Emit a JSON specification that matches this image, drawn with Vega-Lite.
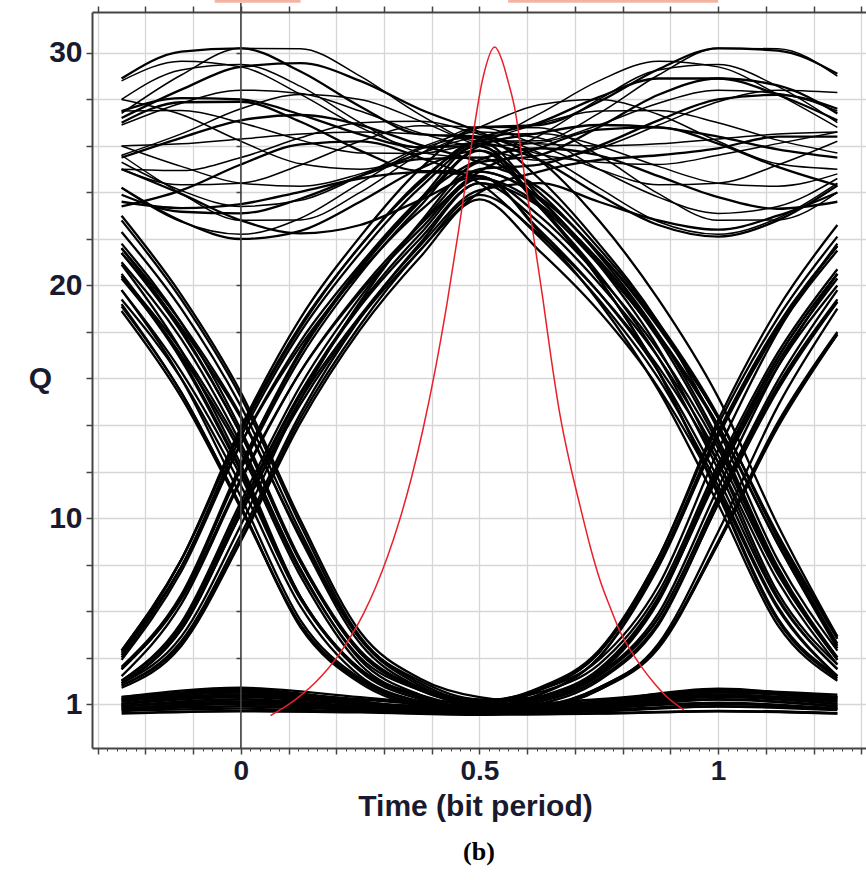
{
"$schema":"https://vega.github.io/schema/vega-lite/v6.json",
"width":774,"height":736,"autosize":"none",
"padding":{"left":92,"top":12,"right":0,"bottom":132},
"background":"white",
"config":{"view":{"stroke":null}},
"title":{"text":"(b)","orient":"bottom","anchor":"middle","font":"Liberation Serif","fontSize":26,"fontWeight":"bold","color":"#000","offset":18},
"datasets":{
"upper":[
{"id":"u1","t":-0.25,"q":27.4},{"id":"u1","t":-0.125,"q":29.05},{"id":"u1","t":0,"q":30.2},{"id":"u1","t":0.125,"q":30.18},{"id":"u1","t":0.25,"q":29.0},{"id":"u1","t":0.375,"q":27.35},{"id":"u1","t":0.5,"q":26.2},{"id":"u1","t":0.625,"q":26.22},{"id":"u1","t":0.75,"q":27.4},{"id":"u1","t":0.875,"q":29.05},{"id":"u1","t":1,"q":30.2},{"id":"u1","t":1.125,"q":30.18},{"id":"u1","t":1.25,"q":29.0},
{"id":"u2","t":-0.25,"q":28.0},{"id":"u2","t":-0.125,"q":29.27},{"id":"u2","t":0,"q":29.5},{"id":"u2","t":0.125,"q":28.56},{"id":"u2","t":0.25,"q":27.0},{"id":"u2","t":0.375,"q":25.73},{"id":"u2","t":0.5,"q":25.5},{"id":"u2","t":0.625,"q":26.44},{"id":"u2","t":0.75,"q":28.0},{"id":"u2","t":0.875,"q":29.27},{"id":"u2","t":1,"q":29.5},{"id":"u2","t":1.125,"q":28.56},{"id":"u2","t":1.25,"q":27.0},
{"id":"u3","t":-0.25,"q":24.2},{"id":"u3","t":-0.125,"q":22.74},{"id":"u3","t":0,"q":22.2},{"id":"u3","t":0.125,"q":22.89},{"id":"u3","t":0.25,"q":24.4},{"id":"u3","t":0.375,"q":25.86},{"id":"u3","t":0.5,"q":26.4},{"id":"u3","t":0.625,"q":25.71},{"id":"u3","t":0.75,"q":24.2},{"id":"u3","t":0.875,"q":22.74},{"id":"u3","t":1,"q":22.2},{"id":"u3","t":1.125,"q":22.89},{"id":"u3","t":1.25,"q":24.4},
{"id":"u4","t":-0.25,"q":25.6},{"id":"u4","t":-0.125,"q":23.95},{"id":"u4","t":0,"q":22.8},{"id":"u4","t":0.125,"q":22.82},{"id":"u4","t":0.25,"q":24.0},{"id":"u4","t":0.375,"q":25.65},{"id":"u4","t":0.5,"q":26.8},{"id":"u4","t":0.625,"q":26.78},{"id":"u4","t":0.75,"q":25.6},{"id":"u4","t":0.875,"q":23.95},{"id":"u4","t":1,"q":22.8},{"id":"u4","t":1.125,"q":22.82},{"id":"u4","t":1.25,"q":24.0},
{"id":"u5","t":-0.25,"q":25.6},{"id":"u5","t":-0.125,"q":26.52},{"id":"u5","t":0,"q":27.6},{"id":"u5","t":0.125,"q":28.21},{"id":"u5","t":0.25,"q":28.0},{"id":"u5","t":0.375,"q":27.08},{"id":"u5","t":0.5,"q":26.0},{"id":"u5","t":0.625,"q":25.39},{"id":"u5","t":0.75,"q":25.9},{"id":"u5","t":0.875,"q":26.9},{"id":"u5","t":1,"q":27.9},{"id":"u5","t":1.125,"q":28.4},{"id":"u5","t":1.25,"q":28.3},
{"id":"u6","t":-0.25,"q":28.0},{"id":"u6","t":-0.125,"q":27.35},{"id":"u6","t":0,"q":26.2},{"id":"u6","t":0.125,"q":25.23},{"id":"u6","t":0.25,"q":25.0},{"id":"u6","t":0.375,"q":25.65},{"id":"u6","t":0.5,"q":26.8},{"id":"u6","t":0.625,"q":27.77},{"id":"u6","t":0.75,"q":28.0},{"id":"u6","t":0.875,"q":27.35},{"id":"u6","t":1,"q":26.2},{"id":"u6","t":1.125,"q":25.23},{"id":"u6","t":1.25,"q":25.0},
{"id":"u7","t":-0.25,"q":26.9},{"id":"u7","t":-0.125,"q":27.84},{"id":"u7","t":0,"q":28.4},{"id":"u7","t":0.125,"q":28.26},{"id":"u7","t":0.25,"q":27.5},{"id":"u7","t":0.375,"q":26.56},{"id":"u7","t":0.5,"q":26.0},{"id":"u7","t":0.625,"q":26.14},{"id":"u7","t":0.75,"q":26.9},{"id":"u7","t":0.875,"q":27.84},{"id":"u7","t":1,"q":28.4},{"id":"u7","t":1.125,"q":28.26},{"id":"u7","t":1.25,"q":27.5},
{"id":"u8","t":-0.25,"q":25.0},{"id":"u8","t":-0.125,"q":24.33},{"id":"u8","t":0,"q":24.4},{"id":"u8","t":0.125,"q":25.18},{"id":"u8","t":0.25,"q":26.2},{"id":"u8","t":0.375,"q":26.87},{"id":"u8","t":0.5,"q":26.8},{"id":"u8","t":0.625,"q":26.02},{"id":"u8","t":0.75,"q":25.0},{"id":"u8","t":0.875,"q":24.33},{"id":"u8","t":1,"q":24.4},{"id":"u8","t":1.125,"q":25.18},{"id":"u8","t":1.25,"q":26.2},
{"id":"u9","t":-0.25,"q":25.0},{"id":"u9","t":-0.125,"q":24.94},{"id":"u9","t":0,"q":25.5},{"id":"u9","t":0.125,"q":26.35},{"id":"u9","t":0.25,"q":27.0},{"id":"u9","t":0.375,"q":27.06},{"id":"u9","t":0.5,"q":26.5},{"id":"u9","t":0.625,"q":25.65},{"id":"u9","t":0.75,"q":25.3},{"id":"u9","t":0.875,"q":25.2},{"id":"u9","t":1,"q":25.6},{"id":"u9","t":1.125,"q":26.1},{"id":"u9","t":1.25,"q":26.6},
{"id":"u10","t":-0.25,"q":27.5},{"id":"u10","t":-0.125,"q":27.52},{"id":"u10","t":0,"q":27.0},{"id":"u10","t":0.125,"q":26.25},{"id":"u10","t":0.25,"q":25.7},{"id":"u10","t":0.375,"q":25.68},{"id":"u10","t":0.5,"q":26.2},{"id":"u10","t":0.625,"q":26.95},{"id":"u10","t":0.75,"q":27.5},{"id":"u10","t":0.875,"q":27.52},{"id":"u10","t":1,"q":27.0},{"id":"u10","t":1.125,"q":26.25},{"id":"u10","t":1.25,"q":25.7},
{"id":"u11","t":-0.25,"q":25.3},{"id":"u11","t":-0.125,"q":24.08},{"id":"u11","t":0,"q":23.4},{"id":"u11","t":0.125,"q":23.66},{"id":"u11","t":0.25,"q":24.7},{"id":"u11","t":0.375,"q":25.92},{"id":"u11","t":0.5,"q":26.6},{"id":"u11","t":0.625,"q":26.34},{"id":"u11","t":0.75,"q":25.0},{"id":"u11","t":0.875,"q":23.8},{"id":"u11","t":1,"q":23.1},{"id":"u11","t":1.125,"q":23.4},{"id":"u11","t":1.25,"q":24.6},
{"id":"u12","t":-0.25,"q":28.8},{"id":"u12","t":-0.125,"q":29.64},{"id":"u12","t":0,"q":29.4},{"id":"u12","t":0.125,"q":28.22},{"id":"u12","t":0.25,"q":26.8},{"id":"u12","t":0.375,"q":25.96},{"id":"u12","t":0.5,"q":26.2},{"id":"u12","t":0.625,"q":27.38},{"id":"u12","t":0.75,"q":28.8},{"id":"u12","t":0.875,"q":29.64},{"id":"u12","t":1,"q":29.4},{"id":"u12","t":1.125,"q":28.22},{"id":"u12","t":1.25,"q":26.8},
{"id":"u13","t":-0.25,"q":26.0},{"id":"u13","t":-0.125,"q":26.09},{"id":"u13","t":0,"q":26.3},{"id":"u13","t":0.125,"q":26.51},{"id":"u13","t":0.25,"q":26.6},{"id":"u13","t":0.375,"q":26.51},{"id":"u13","t":0.5,"q":26.3},{"id":"u13","t":0.625,"q":26.09},{"id":"u13","t":0.75,"q":26.0},{"id":"u13","t":0.875,"q":26.09},{"id":"u13","t":1,"q":26.3},{"id":"u13","t":1.125,"q":26.51},{"id":"u13","t":1.25,"q":26.6},
{"id":"u14","t":-0.25,"q":26.0},{"id":"u14","t":-0.125,"q":25.12},{"id":"u14","t":0,"q":24.4},{"id":"u14","t":0.125,"q":24.27},{"id":"u14","t":0.25,"q":24.8},{"id":"u14","t":0.375,"q":25.68},{"id":"u14","t":0.5,"q":26.4},{"id":"u14","t":0.625,"q":26.53},{"id":"u14","t":0.75,"q":26.0},{"id":"u14","t":0.875,"q":25.12},{"id":"u14","t":1,"q":24.4},{"id":"u14","t":1.125,"q":24.27},{"id":"u14","t":1.25,"q":24.8}
],
"edges":[
{"id":"A1","t":-0.25,"q":4.1},{"id":"A1","t":-0.125,"q":8.2},{"id":"A1","t":0,"q":13.9},{"id":"A1","t":0.125,"q":18.6},{"id":"A1","t":0.25,"q":22.1},{"id":"A1","t":0.375,"q":25.0},{"id":"A1","t":0.5,"q":26.8},{"id":"A1","t":0.625,"q":26.9},{"id":"A1","t":0.75,"q":27.9},{"id":"A1","t":0.875,"q":29.3},{"id":"A1","t":1,"q":30.2},{"id":"A1","t":1.125,"q":30.1},{"id":"A1","t":1.25,"q":29.1},
{"id":"A2","t":-0.25,"q":3.6},{"id":"A2","t":-0.125,"q":6.7},{"id":"A2","t":0,"q":12.3},{"id":"A2","t":0.125,"q":17.2},{"id":"A2","t":0.25,"q":20.8},{"id":"A2","t":0.375,"q":23.7},{"id":"A2","t":0.5,"q":26.1},{"id":"A2","t":0.625,"q":25.4},{"id":"A2","t":0.75,"q":23.9},{"id":"A2","t":0.875,"q":22.6},{"id":"A2","t":1,"q":22.1},{"id":"A2","t":1.125,"q":22.8},{"id":"A2","t":1.25,"q":24.3},
{"id":"A3","t":-0.25,"q":3.0},{"id":"A3","t":-0.125,"q":5.5},{"id":"A3","t":0,"q":10.7},{"id":"A3","t":0.125,"q":15.7},{"id":"A3","t":0.25,"q":19.5},{"id":"A3","t":0.375,"q":22.6},{"id":"A3","t":0.5,"q":25.0},{"id":"A3","t":0.625,"q":25.2},{"id":"A3","t":0.75,"q":26.0},{"id":"A3","t":0.875,"q":27.1},{"id":"A3","t":1,"q":28.0},{"id":"A3","t":1.125,"q":28.2},{"id":"A3","t":1.25,"q":27.6},
{"id":"A4","t":-0.25,"q":2.8},{"id":"A4","t":-0.125,"q":4.6},{"id":"A4","t":0,"q":9.1},{"id":"A4","t":0.125,"q":14.3},{"id":"A4","t":0.25,"q":18.3},{"id":"A4","t":0.375,"q":21.5},{"id":"A4","t":0.5,"q":24.0},{"id":"A4","t":0.625,"q":24.9},{"id":"A4","t":0.75,"q":25.4},{"id":"A4","t":0.875,"q":25.6},{"id":"A4","t":1,"q":25.9},{"id":"A4","t":1.125,"q":26.4},{"id":"A4","t":1.25,"q":26.4},
{"id":"A5","t":-0.25,"q":2.9},{"id":"A5","t":-0.125,"q":5.2},{"id":"A5","t":0,"q":10.2},{"id":"A5","t":0.125,"q":15.1},{"id":"A5","t":0.25,"q":18.7},{"id":"A5","t":0.375,"q":21.7},{"id":"A5","t":0.5,"q":24.1},{"id":"A5","t":0.625,"q":24.4},{"id":"A5","t":0.75,"q":23.6},{"id":"A5","t":0.875,"q":22.8},{"id":"A5","t":1,"q":22.4},{"id":"A5","t":1.125,"q":23.0},{"id":"A5","t":1.25,"q":24.0},
{"id":"A6","t":-0.25,"q":4.3},{"id":"A6","t":-0.125,"q":8.2},{"id":"A6","t":0,"q":13.8},{"id":"A6","t":0.125,"q":18.3},{"id":"A6","t":0.25,"q":21.7},{"id":"A6","t":0.375,"q":24.5},{"id":"A6","t":0.5,"q":26.3},{"id":"A6","t":0.625,"q":27.0},{"id":"A6","t":0.75,"q":28.1},{"id":"A6","t":0.875,"q":28.9},{"id":"A6","t":1,"q":28.9},{"id":"A6","t":1.125,"q":28.2},{"id":"A6","t":1.25,"q":27.1},
{"id":"A7","t":-0.25,"q":3.5},{"id":"A7","t":-0.125,"q":6.6},{"id":"A7","t":0,"q":12.2},{"id":"A7","t":0.125,"q":17.1},{"id":"A7","t":0.25,"q":20.7},{"id":"A7","t":0.375,"q":23.6},{"id":"A7","t":0.5,"q":26.0},{"id":"A7","t":0.625,"q":26.55},{"id":"A7","t":0.75,"q":26.9},{"id":"A7","t":0.875,"q":26.8},{"id":"A7","t":1,"q":26.4},{"id":"A7","t":1.125,"q":25.85},{"id":"A7","t":1.25,"q":25.5},
{"id":"A8","t":-0.25,"q":3.9},{"id":"A8","t":-0.125,"q":7.7},{"id":"A8","t":0,"q":13.2},{"id":"A8","t":0.125,"q":17.6},{"id":"A8","t":0.25,"q":20.9},{"id":"A8","t":0.375,"q":23.7},{"id":"A8","t":0.5,"q":25.4},{"id":"A8","t":0.625,"q":25.9},{"id":"A8","t":0.75,"q":25.6},{"id":"A8","t":0.875,"q":24.7},{"id":"A8","t":1,"q":23.8},{"id":"A8","t":1.125,"q":23.3},{"id":"A8","t":1.25,"q":23.6},
{"id":"A9","t":-0.25,"q":2.9},{"id":"A9","t":-0.125,"q":4.9},{"id":"A9","t":0,"q":9.7},{"id":"A9","t":0.125,"q":15.1},{"id":"A9","t":0.25,"q":19.3},{"id":"A9","t":0.375,"q":22.7},{"id":"A9","t":0.5,"q":25.3},{"id":"A9","t":0.625,"q":25.6},{"id":"A9","t":0.75,"q":26.8},{"id":"A9","t":0.875,"q":28.2},{"id":"A9","t":1,"q":28.9},{"id":"A9","t":1.125,"q":28.6},{"id":"A9","t":1.25,"q":27.4},
{"id":"A10","t":-0.25,"q":3.2},{"id":"A10","t":-0.125,"q":6.3},{"id":"A10","t":0,"q":11.6},{"id":"A10","t":0.125,"q":16.3},{"id":"A10","t":0.25,"q":19.8},{"id":"A10","t":0.375,"q":22.6},{"id":"A10","t":0.5,"q":24.9},{"id":"A10","t":0.625,"q":25.9},{"id":"A10","t":0.75,"q":26.7},{"id":"A10","t":0.875,"q":26.8},{"id":"A10","t":1,"q":26.1},{"id":"A10","t":1.125,"q":25.1},{"id":"A10","t":1.25,"q":24.3},
{"id":"B1","t":-0.25,"q":4.3},{"id":"B1","t":-0.125,"q":8.2},{"id":"B1","t":0,"q":13.7},{"id":"B1","t":0.125,"q":18.2},{"id":"B1","t":0.25,"q":21.7},{"id":"B1","t":0.375,"q":24.4},{"id":"B1","t":0.5,"q":26.2},{"id":"B1","t":0.625,"q":23.8},{"id":"B1","t":0.75,"q":20.9},{"id":"B1","t":0.875,"q":17.3},{"id":"B1","t":1,"q":12.4},{"id":"B1","t":1.125,"q":6.8},{"id":"B1","t":1.25,"q":3.7},
{"id":"B2","t":-0.25,"q":3.5},{"id":"B2","t":-0.125,"q":6.6},{"id":"B2","t":0,"q":12.1},{"id":"B2","t":0.125,"q":16.9},{"id":"B2","t":0.25,"q":20.5},{"id":"B2","t":0.375,"q":23.4},{"id":"B2","t":0.5,"q":25.8},{"id":"B2","t":0.625,"q":24.0},{"id":"B2","t":0.75,"q":21.3},{"id":"B2","t":0.875,"q":17.9},{"id":"B2","t":1,"q":13.4},{"id":"B2","t":1.125,"q":7.9},{"id":"B2","t":1.25,"q":4.0},
{"id":"B3","t":-0.25,"q":3.0},{"id":"B3","t":-0.125,"q":5.4},{"id":"B3","t":0,"q":10.4},{"id":"B3","t":0.125,"q":15.3},{"id":"B3","t":0.25,"q":19.1},{"id":"B3","t":0.375,"q":22.0},{"id":"B3","t":0.5,"q":24.4},{"id":"B3","t":0.625,"q":23.4},{"id":"B3","t":0.75,"q":20.9},{"id":"B3","t":0.875,"q":17.8},{"id":"B3","t":1,"q":13.9},{"id":"B3","t":1.125,"q":8.9},{"id":"B3","t":1.25,"q":4.5},
{"id":"B4","t":-0.25,"q":2.7},{"id":"B4","t":-0.125,"q":4.5},{"id":"B4","t":0,"q":9.0},{"id":"B4","t":0.125,"q":14.1},{"id":"B4","t":0.25,"q":18.1},{"id":"B4","t":0.375,"q":21.2},{"id":"B4","t":0.5,"q":23.7},{"id":"B4","t":0.625,"q":21.5},{"id":"B4","t":0.75,"q":18.9},{"id":"B4","t":0.875,"q":15.6},{"id":"B4","t":1,"q":11.2},{"id":"B4","t":1.125,"q":6.1},{"id":"B4","t":1.25,"q":3.2},
{"id":"B5","t":-0.25,"q":2.9},{"id":"B5","t":-0.125,"q":5.2},{"id":"B5","t":0,"q":10.2},{"id":"B5","t":0.125,"q":14.9},{"id":"B5","t":0.25,"q":18.6},{"id":"B5","t":0.375,"q":21.5},{"id":"B5","t":0.5,"q":23.9},{"id":"B5","t":0.625,"q":22.2},{"id":"B5","t":0.75,"q":19.7},{"id":"B5","t":0.875,"q":16.5},{"id":"B5","t":1,"q":12.4},{"id":"B5","t":1.125,"q":7.3},{"id":"B5","t":1.25,"q":3.7},
{"id":"B6","t":-0.25,"q":4.2},{"id":"B6","t":-0.125,"q":7.9},{"id":"B6","t":0,"q":13.2},{"id":"B6","t":0.125,"q":17.4},{"id":"B6","t":0.25,"q":20.6},{"id":"B6","t":0.375,"q":23.2},{"id":"B6","t":0.5,"q":24.9},{"id":"B6","t":0.625,"q":23.8},{"id":"B6","t":0.75,"q":21.4},{"id":"B6","t":0.875,"q":18.3},{"id":"B6","t":1,"q":14.3},{"id":"B6","t":1.125,"q":9.3},{"id":"B6","t":1.25,"q":4.9},
{"id":"B7","t":-0.25,"q":3.5},{"id":"B7","t":-0.125,"q":6.5},{"id":"B7","t":0,"q":11.7},{"id":"B7","t":0.125,"q":16.3},{"id":"B7","t":0.25,"q":19.7},{"id":"B7","t":0.375,"q":22.4},{"id":"B7","t":0.5,"q":24.7},{"id":"B7","t":0.625,"q":22.4},{"id":"B7","t":0.75,"q":19.7},{"id":"B7","t":0.875,"q":16.3},{"id":"B7","t":1,"q":11.7},{"id":"B7","t":1.125,"q":6.5},{"id":"B7","t":1.25,"q":3.5},
{"id":"B8","t":-0.25,"q":2.8},{"id":"B8","t":-0.125,"q":4.7},{"id":"B8","t":0,"q":9.3},{"id":"B8","t":0.125,"q":14.5},{"id":"B8","t":0.25,"q":18.6},{"id":"B8","t":0.375,"q":21.8},{"id":"B8","t":0.5,"q":24.4},{"id":"B8","t":0.625,"q":22.7},{"id":"B8","t":0.75,"q":20.1},{"id":"B8","t":0.875,"q":16.9},{"id":"B8","t":1,"q":12.7},{"id":"B8","t":1.125,"q":7.6},{"id":"B8","t":1.25,"q":3.9},
{"id":"B9","t":-0.25,"q":4.0},{"id":"B9","t":-0.125,"q":7.9},{"id":"B9","t":0,"q":13.5},{"id":"B9","t":0.125,"q":18.0},{"id":"B9","t":0.25,"q":21.4},{"id":"B9","t":0.375,"q":24.2},{"id":"B9","t":0.5,"q":26.0},{"id":"B9","t":0.625,"q":23.4},{"id":"B9","t":0.75,"q":20.3},{"id":"B9","t":0.875,"q":16.3},{"id":"B9","t":1,"q":11.0},{"id":"B9","t":1.125,"q":5.6},{"id":"B9","t":1.25,"q":3.1},
{"id":"B10","t":-0.25,"q":2.9},{"id":"B10","t":-0.125,"q":5.3},{"id":"B10","t":0,"q":10.5},{"id":"B10","t":0.125,"q":15.4},{"id":"B10","t":0.25,"q":19.2},{"id":"B10","t":0.375,"q":22.2},{"id":"B10","t":0.5,"q":24.6},{"id":"B10","t":0.625,"q":23.5},{"id":"B10","t":0.75,"q":21.1},{"id":"B10","t":0.875,"q":17.9},{"id":"B10","t":1,"q":14.0},{"id":"B10","t":1.125,"q":8.9},{"id":"B10","t":1.25,"q":4.4},
{"id":"C1","t":-0.25,"q":21.8},{"id":"C1","t":-0.125,"q":18.4},{"id":"C1","t":0,"q":13.8},{"id":"C1","t":0.125,"q":8.2},{"id":"C1","t":0.25,"q":4.3},{"id":"C1","t":0.375,"q":2.7},{"id":"C1","t":0.5,"q":2.1},{"id":"C1","t":0.625,"q":2.5},{"id":"C1","t":0.75,"q":3.7},{"id":"C1","t":0.875,"q":6.8},{"id":"C1","t":1,"q":12.3},{"id":"C1","t":1.125,"q":17.1},{"id":"C1","t":1.25,"q":20.7},
{"id":"C2","t":-0.25,"q":20.5},{"id":"C2","t":-0.125,"q":16.9},{"id":"C2","t":0,"q":12.1},{"id":"C2","t":0.125,"q":6.6},{"id":"C2","t":0.25,"q":3.5},{"id":"C2","t":0.375,"q":2.3},{"id":"C2","t":0.5,"q":1.8},{"id":"C2","t":0.625,"q":2.1},{"id":"C2","t":0.75,"q":3.1},{"id":"C2","t":0.875,"q":5.5},{"id":"C2","t":1,"q":10.6},{"id":"C2","t":1.125,"q":15.6},{"id":"C2","t":1.25,"q":19.3},
{"id":"C3","t":-0.25,"q":21.6},{"id":"C3","t":-0.125,"q":18.4},{"id":"C3","t":0,"q":14.4},{"id":"C3","t":0.125,"q":9.1},{"id":"C3","t":0.25,"q":4.6},{"id":"C3","t":0.375,"q":2.7},{"id":"C3","t":0.5,"q":1.9},{"id":"C3","t":0.625,"q":2.4},{"id":"C3","t":0.75,"q":4.0},{"id":"C3","t":0.875,"q":8.0},{"id":"C3","t":1,"q":13.6},{"id":"C3","t":1.125,"q":18.2},{"id":"C3","t":1.25,"q":21.7},
{"id":"C4","t":-0.25,"q":18.9},{"id":"C4","t":-0.125,"q":15.2},{"id":"C4","t":0,"q":10.4},{"id":"C4","t":0.125,"q":5.4},{"id":"C4","t":0.25,"q":3.0},{"id":"C4","t":0.375,"q":2.0},{"id":"C4","t":0.5,"q":1.7},{"id":"C4","t":0.625,"q":1.9},{"id":"C4","t":0.75,"q":2.7},{"id":"C4","t":0.875,"q":4.5},{"id":"C4","t":1,"q":9.0},{"id":"C4","t":1.125,"q":14.1},{"id":"C4","t":1.25,"q":18.0},
{"id":"C5","t":-0.25,"q":19.4},{"id":"C5","t":-0.125,"q":16.0},{"id":"C5","t":0,"q":11.4},{"id":"C5","t":0.125,"q":6.2},{"id":"C5","t":0.25,"q":3.2},{"id":"C5","t":0.375,"q":2.1},{"id":"C5","t":0.5,"q":1.6},{"id":"C5","t":0.625,"q":2.1},{"id":"C5","t":0.75,"q":3.3},{"id":"C5","t":0.875,"q":6.4},{"id":"C5","t":1,"q":12.0},{"id":"C5","t":1.125,"q":16.9},{"id":"C5","t":1.25,"q":20.5},
{"id":"C6","t":-0.25,"q":21.4},{"id":"C6","t":-0.125,"q":18.2},{"id":"C6","t":0,"q":14.3},{"id":"C6","t":0.125,"q":9.2},{"id":"C6","t":0.25,"q":4.8},{"id":"C6","t":0.375,"q":3.0},{"id":"C6","t":0.5,"q":2.2},{"id":"C6","t":0.625,"q":2.3},{"id":"C6","t":0.75,"q":3.3},{"id":"C6","t":0.875,"q":5.7},{"id":"C6","t":1,"q":10.8},{"id":"C6","t":1.125,"q":15.7},{"id":"C6","t":1.25,"q":19.4},
{"id":"C7","t":-0.25,"q":20.4},{"id":"C7","t":-0.125,"q":17.2},{"id":"C7","t":0,"q":13.0},{"id":"C7","t":0.125,"q":7.7},{"id":"C7","t":0.25,"q":4.0},{"id":"C7","t":0.375,"q":2.6},{"id":"C7","t":0.5,"q":2.0},{"id":"C7","t":0.625,"q":2.6},{"id":"C7","t":0.75,"q":4.2},{"id":"C7","t":0.875,"q":8.1},{"id":"C7","t":1,"q":13.7},{"id":"C7","t":1.125,"q":18.3},{"id":"C7","t":1.25,"q":21.7},
{"id":"C8","t":-0.25,"q":19.8},{"id":"C8","t":-0.125,"q":16.0},{"id":"C8","t":0,"q":10.9},{"id":"C8","t":0.125,"q":5.6},{"id":"C8","t":0.25,"q":3.1},{"id":"C8","t":0.375,"q":2.1},{"id":"C8","t":0.5,"q":1.8},{"id":"C8","t":0.625,"q":2.3},{"id":"C8","t":0.75,"q":3.4},{"id":"C8","t":0.875,"q":6.5},{"id":"C8","t":1,"q":11.8},{"id":"C8","t":1.125,"q":16.5},{"id":"C8","t":1.25,"q":20.0},
{"id":"C9","t":-0.25,"q":21.0},{"id":"C9","t":-0.125,"q":17.7},{"id":"C9","t":0,"q":13.2},{"id":"C9","t":0.125,"q":7.8},{"id":"C9","t":0.25,"q":3.9},{"id":"C9","t":0.375,"q":2.4},{"id":"C9","t":0.5,"q":1.8},{"id":"C9","t":0.625,"q":1.9},{"id":"C9","t":0.75,"q":2.7},{"id":"C9","t":0.875,"q":4.5},{"id":"C9","t":1,"q":8.9},{"id":"C9","t":1.125,"q":13.9},{"id":"C9","t":1.25,"q":17.9},
{"id":"C10","t":-0.25,"q":22.8},{"id":"C10","t":-0.125,"q":19.4},{"id":"C10","t":0,"q":15.2},{"id":"C10","t":0.125,"q":9.7},{"id":"C10","t":0.25,"q":4.9},{"id":"C10","t":0.375,"q":2.9},{"id":"C10","t":0.5,"q":2.1},{"id":"C10","t":0.625,"q":2.3},{"id":"C10","t":0.75,"q":3.3},{"id":"C10","t":0.875,"q":5.9},{"id":"C10","t":1,"q":11.3},{"id":"C10","t":1.125,"q":16.5},{"id":"C10","t":1.25,"q":20.5},
{"id":"D1","t":-0.25,"q":23.0},{"id":"D1","t":-0.125,"q":19.6},{"id":"D1","t":0,"q":15.4},{"id":"D1","t":0.125,"q":9.9},{"id":"D1","t":0.25,"q":5.1},{"id":"D1","t":0.375,"q":3.1},{"id":"D1","t":0.5,"q":2.3},{"id":"D1","t":0.75,"q":1.9},{"id":"D1","t":1,"q":2.4},{"id":"D1","t":1.25,"q":2.1},
{"id":"D2","t":-0.25,"q":21.6},{"id":"D2","t":-0.125,"q":18.1},{"id":"D2","t":0,"q":13.6},{"id":"D2","t":0.125,"q":8.1},{"id":"D2","t":0.25,"q":4.2},{"id":"D2","t":0.375,"q":2.6},{"id":"D2","t":0.5,"q":2.0},{"id":"D2","t":0.75,"q":2.0},{"id":"D2","t":1,"q":2.6},{"id":"D2","t":1.25,"q":2.3},
{"id":"D3","t":-0.25,"q":20.4},{"id":"D3","t":-0.125,"q":16.8},{"id":"D3","t":0,"q":12.0},{"id":"D3","t":0.125,"q":6.6},{"id":"D3","t":0.25,"q":3.5},{"id":"D3","t":0.375,"q":2.3},{"id":"D3","t":0.5,"q":1.8},{"id":"D3","t":0.75,"q":1.7},{"id":"D3","t":1,"q":1.9},{"id":"D3","t":1.25,"q":1.8},
{"id":"D4","t":-0.25,"q":19.1},{"id":"D4","t":-0.125,"q":15.4},{"id":"D4","t":0,"q":10.5},{"id":"D4","t":0.125,"q":5.4},{"id":"D4","t":0.25,"q":3.0},{"id":"D4","t":0.375,"q":2.0},{"id":"D4","t":0.5,"q":1.7},{"id":"D4","t":0.75,"q":2.1},{"id":"D4","t":1,"q":2.5},{"id":"D4","t":1.25,"q":2.2},
{"id":"D5","t":-0.25,"q":20.3},{"id":"D5","t":-0.125,"q":17.0},{"id":"D5","t":0,"q":12.8},{"id":"D5","t":0.125,"q":7.5},{"id":"D5","t":0.25,"q":3.7},{"id":"D5","t":0.375,"q":2.3},{"id":"D5","t":0.5,"q":1.7},{"id":"D5","t":0.75,"q":1.8},{"id":"D5","t":1,"q":2.2},{"id":"D5","t":1.25,"q":1.9},
{"id":"D6","t":-0.25,"q":20.9},{"id":"D6","t":-0.125,"q":17.2},{"id":"D6","t":0,"q":12.3},{"id":"D6","t":0.125,"q":6.6},{"id":"D6","t":0.25,"q":3.4},{"id":"D6","t":0.375,"q":2.2},{"id":"D6","t":0.5,"q":1.7},{"id":"D6","t":0.75,"q":1.6},{"id":"D6","t":1,"q":1.7},{"id":"D6","t":1.25,"q":1.6},
{"id":"D7","t":-0.25,"q":22.3},{"id":"D7","t":-0.125,"q":19.0},{"id":"D7","t":0,"q":14.8},{"id":"D7","t":0.125,"q":9.4},{"id":"D7","t":0.25,"q":4.8},{"id":"D7","t":0.375,"q":2.8},{"id":"D7","t":0.5,"q":2.0},{"id":"D7","t":0.75,"q":2.0},{"id":"D7","t":1,"q":2.3},{"id":"D7","t":1.25,"q":2.0},
{"id":"D8","t":-0.25,"q":19.2},{"id":"D8","t":-0.125,"q":15.4},{"id":"D8","t":0,"q":10.5},{"id":"D8","t":0.125,"q":5.3},{"id":"D8","t":0.25,"q":2.9},{"id":"D8","t":0.375,"q":1.9},{"id":"D8","t":0.5,"q":1.6},{"id":"D8","t":0.75,"q":1.9},{"id":"D8","t":1,"q":2.5},{"id":"D8","t":1.25,"q":2.3},
{"id":"D9","t":-0.25,"q":19.8},{"id":"D9","t":-0.125,"q":16.3},{"id":"D9","t":0,"q":11.8},{"id":"D9","t":0.125,"q":6.5},{"id":"D9","t":0.25,"q":3.5},{"id":"D9","t":0.375,"q":2.4},{"id":"D9","t":0.5,"q":1.9},{"id":"D9","t":0.75,"q":2.1},{"id":"D9","t":1,"q":2.6},{"id":"D9","t":1.25,"q":2.4},
{"id":"D10","t":-0.25,"q":21.4},{"id":"D10","t":-0.125,"q":18.0},{"id":"D10","t":0,"q":13.6},{"id":"D10","t":0.125,"q":8.1},{"id":"D10","t":0.25,"q":4.2},{"id":"D10","t":0.375,"q":2.7},{"id":"D10","t":0.5,"q":2.1},{"id":"D10","t":0.75,"q":1.7},{"id":"D10","t":1,"q":2.0},{"id":"D10","t":1.25,"q":1.8},
{"id":"E1","t":-0.25,"q":2.2},{"id":"E1","t":0,"q":2.6},{"id":"E1","t":0.25,"q":2.2},{"id":"E1","t":0.5,"q":2.1},{"id":"E1","t":0.625,"q":2.7},{"id":"E1","t":0.75,"q":4.3},{"id":"E1","t":0.875,"q":8.3},{"id":"E1","t":1,"q":14.0},{"id":"E1","t":1.125,"q":18.6},{"id":"E1","t":1.25,"q":22.1},
{"id":"E2","t":-0.25,"q":1.9},{"id":"E2","t":0,"q":2.1},{"id":"E2","t":0.25,"q":1.9},{"id":"E2","t":0.5,"q":1.8},{"id":"E2","t":0.625,"q":2.3},{"id":"E2","t":0.75,"q":3.5},{"id":"E2","t":0.875,"q":6.6},{"id":"E2","t":1,"q":12.1},{"id":"E2","t":1.125,"q":16.9},{"id":"E2","t":1.25,"q":20.5},
{"id":"E3","t":-0.25,"q":2.0},{"id":"E3","t":0,"q":2.4},{"id":"E3","t":0.25,"q":2.0},{"id":"E3","t":0.5,"q":1.7},{"id":"E3","t":0.625,"q":2.0},{"id":"E3","t":0.75,"q":3.0},{"id":"E3","t":0.875,"q":5.4},{"id":"E3","t":1,"q":10.6},{"id":"E3","t":1.125,"q":15.5},{"id":"E3","t":1.25,"q":19.3},
{"id":"E4","t":-0.25,"q":1.7},{"id":"E4","t":0,"q":1.8},{"id":"E4","t":0.25,"q":1.7},{"id":"E4","t":0.5,"q":1.8},{"id":"E4","t":0.625,"q":2.4},{"id":"E4","t":0.75,"q":4.0},{"id":"E4","t":0.875,"q":7.9},{"id":"E4","t":1,"q":13.5},{"id":"E4","t":1.125,"q":18.1},{"id":"E4","t":1.25,"q":21.5},
{"id":"E5","t":-0.25,"q":2.1},{"id":"E5","t":0,"q":2.5},{"id":"E5","t":0.25,"q":2.1},{"id":"E5","t":0.5,"q":1.6},{"id":"E5","t":0.625,"q":1.8},{"id":"E5","t":0.75,"q":2.6},{"id":"E5","t":0.875,"q":4.4},{"id":"E5","t":1,"q":8.9},{"id":"E5","t":1.125,"q":14.0},{"id":"E5","t":1.25,"q":17.9},
{"id":"E6","t":-0.25,"q":1.8},{"id":"E6","t":0,"q":2.0},{"id":"E6","t":0.25,"q":1.8},{"id":"E6","t":0.5,"q":2.1},{"id":"E6","t":0.625,"q":2.6},{"id":"E6","t":0.75,"q":3.9},{"id":"E6","t":0.875,"q":7.1},{"id":"E6","t":1,"q":12.9},{"id":"E6","t":1.125,"q":18.0},{"id":"E6","t":1.25,"q":21.8},
{"id":"E7","t":-0.25,"q":2.3},{"id":"E7","t":0,"q":2.7},{"id":"E7","t":0.25,"q":2.3},{"id":"E7","t":0.5,"q":1.9},{"id":"E7","t":0.625,"q":2.2},{"id":"E7","t":0.75,"q":3.2},{"id":"E7","t":0.875,"q":5.7},{"id":"E7","t":1,"q":10.9},{"id":"E7","t":1.125,"q":15.9},{"id":"E7","t":1.25,"q":19.8},
{"id":"E8","t":-0.25,"q":2.0},{"id":"E8","t":0,"q":2.3},{"id":"E8","t":0.25,"q":2.0},{"id":"E8","t":0.5,"q":1.9},{"id":"E8","t":0.625,"q":2.6},{"id":"E8","t":0.75,"q":4.2},{"id":"E8","t":0.875,"q":8.3},{"id":"E8","t":1,"q":14.2},{"id":"E8","t":1.125,"q":19.0},{"id":"E8","t":1.25,"q":22.6},
{"id":"E9","t":-0.25,"q":1.9},{"id":"E9","t":0,"q":2.2},{"id":"E9","t":0.25,"q":1.8},{"id":"E9","t":0.5,"q":1.7},{"id":"E9","t":0.625,"q":2.2},{"id":"E9","t":0.75,"q":3.4},{"id":"E9","t":0.875,"q":6.5},{"id":"E9","t":1,"q":11.9},{"id":"E9","t":1.125,"q":16.7},{"id":"E9","t":1.25,"q":20.3},
{"id":"E10","t":-0.25,"q":2.2},{"id":"E10","t":0,"q":2.5},{"id":"E10","t":0.25,"q":2.0},{"id":"E10","t":0.5,"q":1.6},{"id":"E10","t":0.625,"q":1.8},{"id":"E10","t":0.75,"q":2.6},{"id":"E10","t":0.875,"q":4.6},{"id":"E10","t":1,"q":9.4},{"id":"E10","t":1.125,"q":14.8},{"id":"E10","t":1.25,"q":19.0},
{"id":"F1","t":-0.25,"q":28.9},{"id":"F1","t":-0.125,"q":30.06},{"id":"F1","t":0,"q":30.2},{"id":"F1","t":0.125,"q":29.2},{"id":"F1","t":0.25,"q":27.7},{"id":"F1","t":0.375,"q":26.5},{"id":"F1","t":0.5,"q":26.4},{"id":"F1","t":0.625,"q":24.6},{"id":"F1","t":0.75,"q":21.8},{"id":"F1","t":0.875,"q":18.4},{"id":"F1","t":1,"q":13.8},{"id":"F1","t":1.125,"q":8.2},{"id":"F1","t":1.25,"q":4.3},
{"id":"F2","t":-0.25,"q":24.2},{"id":"F2","t":-0.125,"q":22.77},{"id":"F2","t":0,"q":22.0},{"id":"F2","t":0.125,"q":22.35},{"id":"F2","t":0.25,"q":23.6},{"id":"F2","t":0.375,"q":25.03},{"id":"F2","t":0.5,"q":25.8},{"id":"F2","t":0.625,"q":23.4},{"id":"F2","t":0.75,"q":20.5},{"id":"F2","t":0.875,"q":16.9},{"id":"F2","t":1,"q":12.1},{"id":"F2","t":1.125,"q":6.6},{"id":"F2","t":1.25,"q":3.5},
{"id":"F3","t":-0.25,"q":25.5},{"id":"F3","t":-0.125,"q":26.35},{"id":"F3","t":0,"q":27.1},{"id":"F3","t":0.125,"q":27.33},{"id":"F3","t":0.25,"q":26.9},{"id":"F3","t":0.375,"q":26.05},{"id":"F3","t":0.5,"q":25.3},{"id":"F3","t":0.625,"q":24.2},{"id":"F3","t":0.75,"q":21.6},{"id":"F3","t":0.875,"q":18.4},{"id":"F3","t":1,"q":14.4},{"id":"F3","t":1.125,"q":9.1},{"id":"F3","t":1.25,"q":4.6},
{"id":"F4","t":-0.25,"q":25.0},{"id":"F4","t":-0.125,"q":23.94},{"id":"F4","t":0,"q":22.8},{"id":"F4","t":0.125,"q":22.24},{"id":"F4","t":0.25,"q":22.6},{"id":"F4","t":0.375,"q":23.66},{"id":"F4","t":0.5,"q":24.7},{"id":"F4","t":0.625,"q":22.3},{"id":"F4","t":0.75,"q":19.3},{"id":"F4","t":0.875,"q":15.5},{"id":"F4","t":1,"q":10.6},{"id":"F4","t":1.125,"q":5.4},{"id":"F4","t":1.25,"q":3.0},
{"id":"F5","t":-0.25,"q":23.4},{"id":"F5","t":-0.125,"q":24.09},{"id":"F5","t":0,"q":25.2},{"id":"F5","t":0.125,"q":26.07},{"id":"F5","t":0.25,"q":26.2},{"id":"F5","t":0.375,"q":25.5},{"id":"F5","t":0.5,"q":24.4},{"id":"F5","t":0.625,"q":22.1},{"id":"F5","t":0.75,"q":19.4},{"id":"F5","t":0.875,"q":16.0},{"id":"F5","t":1,"q":11.4},{"id":"F5","t":1.125,"q":6.2},{"id":"F5","t":1.25,"q":3.2},
{"id":"F6","t":-0.25,"q":27.0},{"id":"F6","t":-0.125,"q":27.88},{"id":"F6","t":0,"q":27.9},{"id":"F6","t":0.125,"q":27.04},{"id":"F6","t":0.25,"q":25.8},{"id":"F6","t":0.375,"q":24.92},{"id":"F6","t":0.5,"q":24.9},{"id":"F6","t":0.625,"q":23.8},{"id":"F6","t":0.75,"q":21.4},{"id":"F6","t":0.875,"q":18.2},{"id":"F6","t":1,"q":14.3},{"id":"F6","t":1.125,"q":9.2},{"id":"F6","t":1.25,"q":4.8},
{"id":"F7","t":-0.25,"q":23.6},{"id":"F7","t":-0.125,"q":23.33},{"id":"F7","t":0,"q":23.5},{"id":"F7","t":0.125,"q":24.03},{"id":"F7","t":0.25,"q":24.6},{"id":"F7","t":0.375,"q":24.87},{"id":"F7","t":0.5,"q":24.7},{"id":"F7","t":0.625,"q":23.0},{"id":"F7","t":0.75,"q":20.4},{"id":"F7","t":0.875,"q":17.2},{"id":"F7","t":1,"q":13.0},{"id":"F7","t":1.125,"q":7.7},{"id":"F7","t":1.25,"q":4.0},
{"id":"F8","t":-0.25,"q":27.5},{"id":"F8","t":-0.125,"q":28.06},{"id":"F8","t":0,"q":28.0},{"id":"F8","t":0.125,"q":27.35},{"id":"F8","t":0.25,"q":26.5},{"id":"F8","t":0.375,"q":25.94},{"id":"F8","t":0.5,"q":26.0},{"id":"F8","t":0.625,"q":23.5},{"id":"F8","t":0.75,"q":20.3},{"id":"F8","t":0.875,"q":16.3},{"id":"F8","t":1,"q":11.1},{"id":"F8","t":1.125,"q":5.7},{"id":"F8","t":1.25,"q":3.2},
{"id":"F9","t":-0.25,"q":23.9},{"id":"F9","t":-0.125,"q":23.17},{"id":"F9","t":0,"q":23.1},{"id":"F9","t":0.125,"q":23.73},{"id":"F9","t":0.25,"q":24.7},{"id":"F9","t":0.375,"q":25.43},{"id":"F9","t":0.5,"q":25.5},{"id":"F9","t":0.625,"q":23.7},{"id":"F9","t":0.75,"q":21.0},{"id":"F9","t":0.875,"q":17.7},{"id":"F9","t":1,"q":13.2},{"id":"F9","t":1.125,"q":7.8},{"id":"F9","t":1.25,"q":3.9},
{"id":"F10","t":-0.25,"q":27.2},{"id":"F10","t":-0.125,"q":28.42},{"id":"F10","t":0,"q":29.4},{"id":"F10","t":0.125,"q":29.56},{"id":"F10","t":0.25,"q":28.8},{"id":"F10","t":0.375,"q":27.58},{"id":"F10","t":0.5,"q":26.6},{"id":"F10","t":0.625,"q":25.4},{"id":"F10","t":0.75,"q":22.8},{"id":"F10","t":0.875,"q":19.4},{"id":"F10","t":1,"q":15.2},{"id":"F10","t":1.125,"q":9.7},{"id":"F10","t":1.25,"q":4.9}
],
"lower":[
{"id":"l1","t":-0.25,"q":2.1},{"id":"l1","t":0,"q":2.65},{"id":"l1","t":0.25,"q":2.1},{"id":"l1","t":0.5,"q":1.55},{"id":"l1","t":0.75,"q":2.1},{"id":"l1","t":1,"q":2.65},{"id":"l1","t":1.25,"q":2.1},
{"id":"l2","t":-0.25,"q":2.0},{"id":"l2","t":0,"q":2.4},{"id":"l2","t":0.25,"q":2.0},{"id":"l2","t":0.5,"q":1.6},{"id":"l2","t":0.75,"q":2.0},{"id":"l2","t":1,"q":2.4},{"id":"l2","t":1.25,"q":2.0},
{"id":"l3","t":-0.25,"q":1.9},{"id":"l3","t":0,"q":2.2},{"id":"l3","t":0.25,"q":1.9},{"id":"l3","t":0.5,"q":1.6},{"id":"l3","t":0.75,"q":1.9},{"id":"l3","t":1,"q":2.2},{"id":"l3","t":1.25,"q":1.9},
{"id":"l4","t":-0.25,"q":1.75},{"id":"l4","t":0,"q":1.9},{"id":"l4","t":0.25,"q":1.75},{"id":"l4","t":0.5,"q":1.6},{"id":"l4","t":0.75,"q":1.75},{"id":"l4","t":1,"q":1.9},{"id":"l4","t":1.25,"q":1.75},
{"id":"l5","t":-0.25,"q":2.3},{"id":"l5","t":0,"q":2.55},{"id":"l5","t":0.25,"q":2.2},{"id":"l5","t":0.5,"q":1.9},{"id":"l5","t":0.75,"q":2.2},{"id":"l5","t":1,"q":2.55},{"id":"l5","t":1.25,"q":2.3},
{"id":"l6","t":-0.25,"q":1.6},{"id":"l6","t":0,"q":1.7},{"id":"l6","t":0.25,"q":1.65},{"id":"l6","t":0.5,"q":1.55},{"id":"l6","t":0.75,"q":1.6},{"id":"l6","t":1,"q":1.7},{"id":"l6","t":1.25,"q":1.6},
{"id":"l7","t":-0.25,"q":2.2},{"id":"l7","t":0,"q":2.35},{"id":"l7","t":0.25,"q":2.05},{"id":"l7","t":0.5,"q":1.8},{"id":"l7","t":0.75,"q":2.05},{"id":"l7","t":1,"q":2.35},{"id":"l7","t":1.25,"q":2.2},
{"id":"l8","t":-0.25,"q":1.8},{"id":"l8","t":0,"q":2.05},{"id":"l8","t":0.25,"q":1.85},{"id":"l8","t":0.5,"q":1.7},{"id":"l8","t":0.75,"q":1.85},{"id":"l8","t":1,"q":2.05},{"id":"l8","t":1.25,"q":1.8}
],
"red":[
{"t":0.062,"q":1.5},{"t":0.072,"q":1.63},{"t":0.102,"q":2.01},{"t":0.132,"q":2.48},{"t":0.157,"q":2.95},{"t":0.182,"q":3.51},{"t":0.207,"q":4.17},{"t":0.232,"q":4.96},{"t":0.257,"q":5.89},{"t":0.282,"q":7.0},{"t":0.307,"q":8.32},{"t":0.332,"q":9.87},{"t":0.357,"q":11.7},{"t":0.382,"q":13.85},{"t":0.407,"q":16.35},{"t":0.432,"q":19.23},{"t":0.457,"q":22.47},{"t":0.482,"q":25.88},{"t":0.507,"q":28.9},{"t":0.532,"q":30.25},{"t":0.547,"q":29.7},{"t":0.561,"q":28.7},{"t":0.575,"q":27.5},{"t":0.591,"q":25.2},{"t":0.612,"q":22.3},{"t":0.633,"q":19.4},{"t":0.65,"q":16.9},{"t":0.669,"q":14.4},{"t":0.69,"q":12.3},{"t":0.711,"q":10.5},{"t":0.733,"q":8.7},{"t":0.753,"q":7.3},{"t":0.775,"q":6.1},{"t":0.795,"q":5.1},{"t":0.82,"q":4.2},{"t":0.843,"q":3.5},{"t":0.868,"q":2.85},{"t":0.893,"q":2.3},{"t":0.928,"q":1.75}
],
"frag":[{"a":-0.055,"b":0.125},{"a":0.56,"b":1.0}]
},
"layer":[
{"data":{"name":"upper"},
 "mark":{"type":"line","interpolate":"monotone","color":"#000","strokeWidth":1.5,"clip":false},
 "encoding":{
  "x":{"field":"t","type":"quantitative","scale":{"domain":[-0.312,1.31],"nice":false,"zero":false},
   "axis":{"orient":"bottom","values":[-0.3,-0.2,-0.1,0,0.1,0.2,0.3,0.4,0.5,0.6,0.7,0.8,0.9,1,1.1,1.2,1.3],"format":"~g",
    "labelExpr":"datum.value == 0 || datum.value == 0.5 || datum.value == 1 ? datum.label : ''","labelOverlap":false,"labelFlush":false,
    "labelFont":"Liberation Sans","labelFontWeight":"bold","labelFontSize":28,"labelColor":"#1a1a2e","labelPadding":3,
    "tickSize":6,"tickColor":"#444","tickWidth":1.5,"domainColor":"#444","domainWidth":2,
    "grid":true,"gridColor":"#d6d6d6","gridWidth":1.3,
    "title":"Time (bit period)","titleFont":"Liberation Sans","titleFontWeight":"bold","titleFontSize":30,"titleColor":"#1a1a2e",
    "titleX":383,"titleY":58,"titleAlign":"center","titleBaseline":"middle"}},
  "y":{"field":"q","type":"quantitative","scale":{"domain":[0.11,31.76],"nice":false,"zero":false},
   "axis":{"values":[2,4,6,8,10,12,14,16,18,20,22,24,26,28,30],"format":"~g",
    "labelExpr":"datum.value == 2 ? '1' : (datum.value % 10 == 0 ? datum.label : '')","labelOverlap":false,
    "labelFont":"Liberation Sans","labelFontWeight":"bold","labelFontSize":30,"labelColor":"#1a1a2e","labelPadding":4,
    "tickSize":6,"tickColor":"#444","tickWidth":1.5,"domainColor":"#444","domainWidth":2,
    "grid":true,"gridColor":"#d6d6d6","gridWidth":1.3,
    "title":"Q","titleFont":"Liberation Sans","titleFontWeight":"bold","titleFontSize":30,"titleColor":"#1a1a2e",
    "titleAngle":0,"titleX":-52,"titleY":366,"titleAlign":"center","titleBaseline":"middle"}},
  "detail":{"field":"id"}}},
{"data":{"name":"edges"},
 "mark":{"type":"line","interpolate":"monotone","color":"#000","strokeWidth":2.3,"clip":false},
 "encoding":{
  "x":{"field":"t","type":"quantitative","axis":{"orient":"bottom","values":[-0.3,-0.28,-0.26,-0.24,-0.22,-0.2,-0.18,-0.16,-0.14,-0.12,-0.1,-0.08,-0.06,-0.04,-0.02,0,0.02,0.04,0.06,0.08,0.1,0.12,0.14,0.16,0.18,0.2,0.22,0.24,0.26,0.28,0.3,0.32,0.34,0.36,0.38,0.4,0.42,0.44,0.46,0.48,0.5,0.52,0.54,0.56,0.58,0.6,0.62,0.64,0.66,0.68,0.7,0.72,0.74,0.76,0.78,0.8,0.82,0.84,0.86,0.88,0.9,0.92,0.94,0.96,0.98,1,1.02,1.04,1.06,1.08,1.1,1.12,1.14,1.16,1.18,1.2,1.22,1.24,1.26,1.28,1.3],"labels":false,"domain":false,"grid":false,"tickSize":3,"tickColor":"#444","tickWidth":1,"title":null}},
  "y":{"field":"q","type":"quantitative","axis":null},"detail":{"field":"id"}}},
{"data":{"name":"lower"},
 "mark":{"type":"line","interpolate":"monotone","color":"#000","strokeWidth":2.8,"clip":false},
 "encoding":{"x":{"field":"t","type":"quantitative","axis":null},
  "y":{"field":"q","type":"quantitative","axis":{"orient":"left","offset":-149,"values":[2,4,6,8,10,12,14,16,18,20,22,24,26,28,30],"labels":false,"domain":false,"grid":false,"tickSize":5,"tickColor":"#444","tickWidth":1.5,"title":null}},
  "detail":{"field":"id"}}},
{"data":{"values":[{}]},
 "mark":{"type":"rule","color":"#444","strokeWidth":1.6},
 "encoding":{"x":{"datum":0,"type":"quantitative","axis":null},"y":{"datum":32.15,"type":"quantitative","axis":null},"y2":{"datum":0.11}}},
{"data":{"name":"frag"},
 "mark":{"type":"rect","color":"#f4b4a4","clip":false},
 "encoding":{"x":{"field":"a","type":"quantitative","axis":null},"x2":{"field":"b"},"y":{"datum":32.28,"type":"quantitative","axis":null},"y2":{"datum":32.16}}},
{"data":{"name":"red"},
 "mark":{"type":"line","interpolate":"monotone","color":"#e8202a","strokeWidth":1.5,"clip":false},
 "encoding":{
  "x":{"field":"t","type":"quantitative","axis":{"orient":"top","values":[-0.3,-0.2,-0.1,0,0.1,0.2,0.3,0.4,0.5,0.6,0.7,0.8,0.9,1,1.1,1.2,1.3],"labels":false,"grid":false,"tickSize":6,"tickColor":"#444","tickWidth":1.5,"domainColor":"#444","domainWidth":2,"title":null}},
  "y":{"field":"q","type":"quantitative","axis":null}}}
],
"resolve":{"axis":{"x":"independent","y":"independent"}}
}
